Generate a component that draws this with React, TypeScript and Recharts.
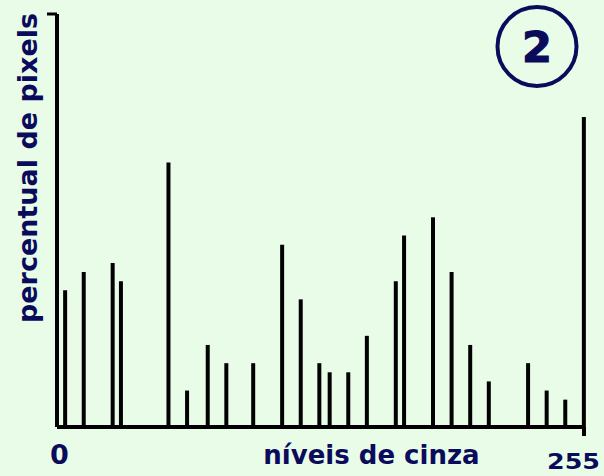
import { BarChart, Bar, XAxis, YAxis, Customized } from 'recharts';

// gray levels (0..255) and pixel share of each level
const levels = [4, 13, 27, 31, 54, 63, 73, 82, 95, 109, 118, 127, 132, 141, 150, 164, 168, 182, 191, 200, 209, 228, 237, 246, 255];
const percents = [15, 17, 18, 16, 29, 4, 9, 7, 7, 20, 14, 7, 6, 6, 10, 16, 21, 23, 17, 9, 5, 7, 4, 3, 34];
const xTicks = [0, 255];
const Y_MAX = 45.3;

const xTitle = 'níveis de cinza';
const yTitle = 'percentual de pixels';
const badge = '2';

const BG = '#e8fce8';
const INK = '#0b0b5c';
const FONT = '"DejaVu Sans", Verdana, sans-serif';

const data = levels.map((level, i) => ({ level, pct: percents[i] }));

function XTick(props: any) {
  const { x, y, payload } = props;
  if (payload.value === 255) {
    // the 255 label is squat and wide in the original
    return (
      <g>
        <line x1={x} x2={x} y1={y - 8} y2={y + 1} stroke='#000' strokeWidth={4} />
        <text
          x={x - 37}
          y={469}
          fill={INK}
          fontFamily={FONT}
          fontWeight='bold'
          fontSize={22}
          textLength={53}
          lengthAdjust='spacingAndGlyphs'
        >
          {payload.value}
        </text>
      </g>
    );
  }
  return (
    <text x={x + 2.5} y={464} textAnchor='middle' fill={INK} fontFamily={FONT} fontWeight='bold' fontSize={27}>
      {payload.value}
    </text>
  );
}

function Decorations() {
  return (
    <g>
      <text
        x={37}
        y={168}
        transform='rotate(-90 37 168)'
        textAnchor='middle'
        fill={INK}
        fontFamily={FONT}
        fontWeight='bold'
        fontSize={27}
      >
        {yTitle}
      </text>
      <text x={371.5} y={464} textAnchor='middle' fill={INK} fontFamily={FONT} fontWeight='bold' fontSize={26}>
        {xTitle}
      </text>
      <circle cx={537} cy={46.5} r={39.5} fill='none' stroke={INK} strokeWidth={4} />
      <text
        x={537}
        y={62}
        textAnchor='middle'
        fill={INK}
        stroke={INK}
        strokeWidth={1.2}
        fontFamily={FONT}
        fontWeight='bold'
        fontSize={43}
      >
        {badge}
      </text>
    </g>
  );
}

export default function App() {
  return (
    <div style={{ position: 'absolute', left: 0, top: 0, width: 604, height: 476, background: BG }}>
      <BarChart width={604} height={476} data={data} margin={{ top: 14, right: 20, left: 0, bottom: 0 }}>
        <XAxis
          type='number'
          dataKey='level'
          domain={[0, 255]}
          ticks={xTicks}
          height={49}
          axisLine={{ stroke: '#000', strokeWidth: 4 }}
          tickLine={false}
          tick={<XTick />}
        />
        <YAxis
          type='number'
          domain={[0, Y_MAX]}
          ticks={[Y_MAX]}
          width={57}
          axisLine={{ stroke: '#000', strokeWidth: 4 }}
          tickSize={10}
          tickLine={{ stroke: '#000', strokeWidth: 3 }}
          tick={() => <g />}
        />
        <Bar dataKey='pct' fill='#000' barSize={4} isAnimationActive={false} />
        <Customized component={Decorations} />
      </BarChart>
    </div>
  );
}
